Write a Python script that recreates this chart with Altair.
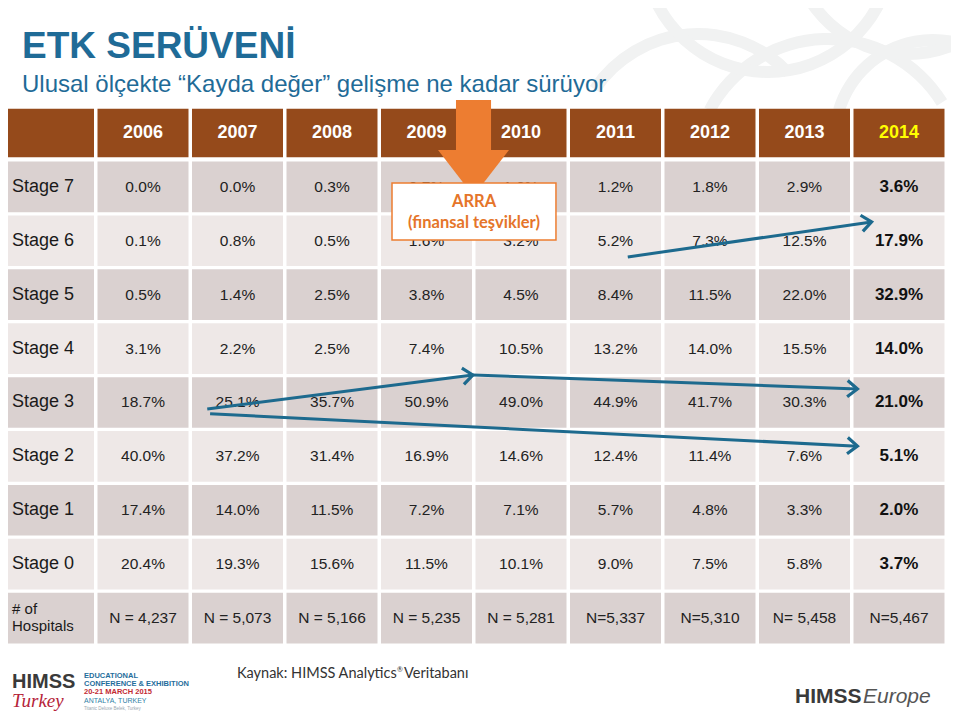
import math
import altair as alt
import pandas as pd

# ---------------- data ----------------
years = ["2006", "2007", "2008", "2009", "2010", "2011", "2012", "2013", "2014"]
stages = ["Stage 7", "Stage 6", "Stage 5", "Stage 4", "Stage 3", "Stage 2", "Stage 1", "Stage 0"]
stage7 = [0.0, 0.0, 0.3, 0.7, 1.0, 1.2, 1.8, 2.9, 3.6]
stage6 = [0.1, 0.8, 0.5, 1.6, 3.2, 5.2, 7.3, 12.5, 17.9]
stage5 = [0.5, 1.4, 2.5, 3.8, 4.5, 8.4, 11.5, 22.0, 32.9]
stage4 = [3.1, 2.2, 2.5, 7.4, 10.5, 13.2, 14.0, 15.5, 14.0]
stage3 = [18.7, 25.1, 35.7, 50.9, 49.0, 44.9, 41.7, 30.3, 21.0]
stage2 = [40.0, 37.2, 31.4, 16.9, 14.6, 12.4, 11.4, 7.6, 5.1]
stage1 = [17.4, 14.0, 11.5, 7.2, 7.1, 5.7, 4.8, 3.3, 2.0]
stage0 = [20.4, 19.3, 15.6, 11.5, 10.1, 9.0, 7.5, 5.8, 3.7]
hospitals = ["N = 4,237", "N = 5,073", "N = 5,166", "N = 5,235", "N = 5,281",
             "N=5,337", "N=5,310", "N= 5,458", "N=5,467"]

# trend arrows, in table units (column index, row index)
arrow_x1 = [6.13, 1.68, 4.49, 1.71]
arrow_y1 = [2.30, 5.12, 4.49, 5.21]
arrow_x2 = [8.71, 4.49, 8.56, 8.56]
arrow_y2 = [1.65, 4.49, 4.75, 5.81]

# ---------------- styling ----------------
BROWN = "#954A1B"
DARK = "#DAD1D0"
LIGHT = "#EEE8E7"
BLUE = "#1F6B97"
ARROW_BLUE = "#1D6A8E"
ORANGE = "#ED7D31"
ORANGE_TXT = "#E5752A"
FONT = "Liberation Sans"

W, H = 943, 703
X_DOMAIN = [-0.4286, 9.5503]
Y_DOMAIN = [-2.319, 10.724]
PX_C = W / (X_DOMAIN[1] - X_DOMAIN[0])
PX_R = H / (Y_DOMAIN[1] - Y_DOMAIN[0])

xs = alt.Scale(domain=X_DOMAIN, nice=False, zero=False)
ys = alt.Scale(domain=Y_DOMAIN, nice=False, zero=False, reverse=True)


def X(f):
    return alt.X(f, type="quantitative", scale=xs, axis=None)


def Y(f):
    return alt.Y(f, type="quantitative", scale=ys, axis=None)


# ---------------- faint background pattern ----------------
one = pd.DataFrame({"k": [0]})
ring_specs = [  # (cx, cy, r_in, r_out, theta, theta2) in chart pixels / radians
    (690, 150, 118, 130, 5.3, 7.1),
    (820, 165, 128, 140, 5.2, 7.3),
    (925, 130, 92, 104, 5.0, 7.2),
    (760, -60, 118, 130, 1.7, 4.6),
    (900, -70, 110, 122, 1.7, 4.6),
]
rings = [
    alt.Chart(one).mark_arc(innerRadius=ri, outerRadius=ro, theta=t1, theta2=t2,
                            color="#F1F2F2").encode(x=alt.value(cx), y=alt.value(cy))
    for cx, cy, ri, ro, t1, t2 in ring_specs
]

# ---------------- table frames ----------------
rows_all = ["header"] + stages + ["hospitals"]
cell_recs = []
for r in range(len(rows_all)):
    for c in range(len(years) + 1):
        kind = "header" if r == 0 else ("dark" if r % 2 == 1 else "light")
        cell_recs.append({"r": r, "c": c, "kind": kind})
cells = pd.DataFrame(cell_recs)

rects = alt.Chart(cells).transform_calculate(
    x1="datum.c - 0.4815", x2="datum.c + 0.4815",
    y1="datum.r - (datum.r == 0 ? 0.45 : 0.47)", y2="datum.r + (datum.r == 0 ? 0.45 : 0.47)",
).mark_rect().encode(
    x=X("x1"), x2="x2:Q", y=Y("y1"), y2="y2:Q",
    color=alt.Color("kind:N", scale=alt.Scale(domain=["header", "dark", "light"],
                                              range=[BROWN, DARK, LIGHT]), legend=None),
)

# header years
hdr = pd.DataFrame({"c": list(range(1, 10)), "r": [0] * 9, "t": years})
header_text = alt.Chart(hdr).mark_text(font=FONT, fontSize=18, fontWeight="bold",
                                       baseline="middle").encode(
    x=X("c"), y=Y("r"), text="t:N",
    color=alt.condition("datum.c == 9", alt.value("#FFFF00"), alt.value("white")),
)

# stage labels
lab = pd.DataFrame({"r": list(range(1, 9)), "t": stages, "c": [-0.386] * 8})
label_text = alt.Chart(lab).mark_text(font=FONT, fontSize=18, align="left", baseline="middle",
                                      color="#1A1A1A").encode(x=X("c"), y=Y("r"), text="t:N")
hosp_lab = pd.DataFrame({"r": [9], "c": [-0.386]})
hosp1 = alt.Chart(hosp_lab).mark_text(font=FONT, fontSize=15, align="left", baseline="middle",
                                      color="#1A1A1A", text="# of", dy=-9).encode(x=X("c"), y=Y("r"))
hosp2 = alt.Chart(hosp_lab).mark_text(font=FONT, fontSize=15, align="left", baseline="middle",
                                      color="#1A1A1A", text="Hospitals", dy=8).encode(x=X("c"), y=Y("r"))

# values
series = [stage7, stage6, stage5, stage4, stage3, stage2, stage1, stage0]
val_recs = []
for i, s in enumerate(series):
    for j, v in enumerate(s):
        val_recs.append({"r": i + 1, "c": j + 1, "t": f"{v:.1f}%", "bold": j == 8})
for j, n in enumerate(hospitals):
    val_recs.append({"r": 9, "c": j + 1, "t": n, "bold": False})
vals = pd.DataFrame(val_recs)

vals_norm = alt.Chart(vals[~vals["bold"]]).mark_text(font=FONT, fontSize=15.5, baseline="middle",
                                                      color="#222222").encode(
    x=X("c"), y=Y("r"), text="t:N")
vals_bold = alt.Chart(vals[vals["bold"]]).mark_text(font=FONT, fontSize=17, fontWeight="bold",
                                                     baseline="middle", color="#111111").encode(
    x=X("c"), y=Y("r"), text="t:N")

# ---------------- blue trend arrows ----------------
arr = pd.DataFrame({"x": arrow_x1, "y": arrow_y1, "x2": arrow_x2, "y2": arrow_y2})
arr["ang"] = [
    (math.degrees(math.atan2((b2 - b1) * PX_R, (a2 - a1) * PX_C)) + 360) % 360
    for a1, b1, a2, b2 in zip(arr["x"], arr["y"], arr["x2"], arr["y2"])
]
arrow_lines = alt.Chart(arr).mark_rule(color=ARROW_BLUE, strokeWidth=3).encode(
    x=X("x"), y=Y("y"), x2="x2:Q", y2="y2:Q")
arrow_heads = alt.Chart(arr).mark_point(
    shape="M -1.1 -0.9 L 0 0 L -1.1 0.9", filled=False, size=330, strokeWidth=3.2,
    color=ARROW_BLUE, opacity=1, strokeJoin="miter").encode(
    x=X("x2"), y=Y("y2"), angle=alt.Angle("ang:Q", scale=None))

# ---------------- orange ARRA arrow and box ----------------
shaft = pd.DataFrame({"x": [4.312], "x2": [4.683], "y": [-0.612], "y2": [0.32]})
shaft_mark = alt.Chart(shaft).mark_rect(color=ORANGE).encode(
    x=X("x"), x2="x2:Q", y=Y("y"), y2="y2:Q")
head = pd.DataFrame({"x": [4.122, 4.497, 4.873], "y": [0.315, 0.315, 0.315], "y2": [0.315, 1.17, 0.315]})
head_mark = alt.Chart(head).mark_area(color=ORANGE, opacity=1).encode(
    x=X("x"), y=Y("y"), y2="y2:Q")
box = pd.DataFrame({"x": [3.635], "x2": [5.370], "y": [0.928], "y2": [1.985]})
box_mark = alt.Chart(box).mark_rect(fill="white", stroke=ORANGE, strokeWidth=1.5).encode(
    x=X("x"), x2="x2:Q", y=Y("y"), y2="y2:Q")
box_txt = pd.DataFrame({"x": [4.503, 4.503], "y": [1.28, 1.67], "t": ["ARRA", "(finansal teşvikler)"]})
box_text = alt.Chart(box_txt).mark_text(font="Lato", fontSize=16.5, fontWeight="bold",
                                         color=ORANGE_TXT, baseline="middle").encode(
    x=X("x"), y=Y("y"), text="t:N")

# ---------------- titles & footer decorations ----------------


def deco(text, x, y, **kw):
    params = dict(align="left", baseline="alphabetic", font=FONT)
    params.update(kw)
    return alt.Chart(one).mark_text(text=text, **params).encode(x=alt.value(x), y=alt.value(y))


decos = [
    deco("ETK SERÜVENİ", 14, 50, fontSize=37, fontWeight="bold", color=BLUE),
    deco("Ulusal ölçekte “Kayda değer” gelişme ne kadar sürüyor", 14, 84, fontSize=24, color=BLUE),
    deco("Kaynak:  HIMSS Analytics", 229, 670, fontSize=14.5, font="Lato", color="#333333"),
    deco("®", 389, 664, fontSize=7, font="Lato", color="#333333"),
    deco("Veritabanı", 396, 670, fontSize=14.5, font="Lato", color="#333333"),
    deco("HIMSS", 4, 680, fontSize=20, fontWeight="bold", color="#3A3A3A"),
    deco("Turkey", 4, 699, fontSize=19, fontStyle="italic", font="Liberation Serif", color="#B5243A"),
    deco("EDUCATIONAL", 76, 670, fontSize=7.5, fontWeight="bold", color="#1F6E9C"),
    deco("CONFERENCE & EXHIBITION", 76, 678, fontSize=7.5, fontWeight="bold", color="#1F6E9C"),
    deco("20-21 MARCH 2015", 76, 686, fontSize=7.5, fontWeight="bold", color="#C22A32"),
    deco("ANTALYA, TURKEY", 76, 695, fontSize=7, color="#2F7FA6"),
    deco("Titanic Deluxe Belek, Turkey", 76, 702, fontSize=4.5, color="#9AA7B0"),
    deco("HIMSS", 787, 695, fontSize=21, fontWeight="bold", color="#3A3A3A"),
    deco("Europe", 855, 695, fontSize=21, fontStyle="italic", color="#555555"),
]

layers = rings + [rects, header_text, label_text, hosp1, hosp2, vals_norm, vals_bold,
                  arrow_lines, arrow_heads, shaft_mark, head_mark, box_mark, box_text] + decos

chart = alt.layer(*layers).properties(
    width=W, height=H, autosize=alt.AutoSizeParams(type="none"), padding=0, background="white"
).configure_view(stroke=None)

chart.save("out.html", embed_options={"renderer": "svg", "actions": False})
